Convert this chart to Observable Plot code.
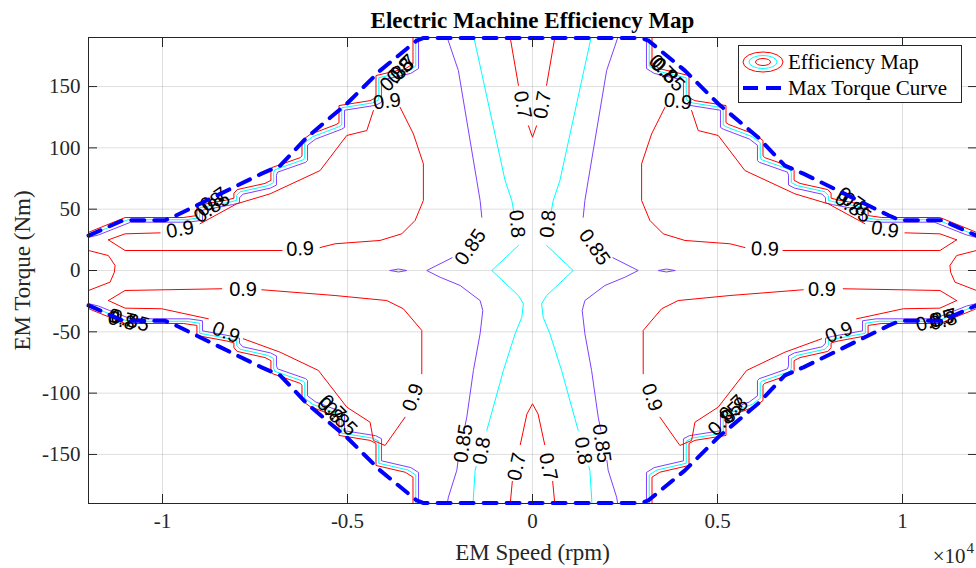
<!DOCTYPE html>
<html><head><meta charset="utf-8">
<script src="https://cdn.jsdelivr.net/npm/d3@7"></script>
<script src="https://cdn.jsdelivr.net/npm/@observablehq/plot@0.6"></script>
<style>
html,body{margin:0;padding:0;background:#fff;}
#chart{width:976px;height:568px;overflow:hidden;}
</style></head><body><div id="chart"></div>
<script>
// ---------- data (speed rpm, torque Nm) ----------
const xTicks = [-10000, -5000, 0, 5000, 10000];
const xTickLabels = ["-1", "-0.5", "0", "0.5", "1"];
const yTicks = [-150, -100, -50, 0, 50, 100, 150];
const yTickLabels = ["-150", "-100", "-50", "0", "50", "100", "150"];
const legendLabels = ["Efficiency Map", "Max Torque Curve"];

const maxTorqueUpper = [[-12000,28.5],[-11060,41],[-9930,41],[-9620,45],[-8440,62.5],[-7320,79],[-6820,85.5],[-6100,108.5],[-5020,136],[-4120,163],[-3130,187.5],[-2960,189.5],
  [2960,189.5],[3130,187.5],[4120,163],[5020,136],[6100,108.5],[6820,85.5],[7320,79],[8440,62.5],[9620,45],[9930,41],[11060,41],[12000,28.5]];
const maxTorqueLower = [[-12000,-28.5],[-11060,-41],[-9930,-41],[-9620,-45],[-8440,-62.5],[-7320,-79],[-6820,-85.5],[-6100,-108.5],[-5020,-136],[-4120,-163],[-3130,-187.5],[-2960,-189.5],
  [2960,-189.5],[3130,-187.5],[4120,-163],[5020,-136],[6100,-108.5],[6820,-85.5],[7320,-79],[8440,-62.5],[9620,-45],[9930,-41],[11060,-41],[12000,-28.5]];

// 0.70 contour along the torque limit (staircase)
const stair70UL = [[-3230,189.5],[-3230,168.5],[-3440,164.5],[-4230,159],[-4230,141],[-4390,138.5],[-5230,134.5],[-5230,120.5],[-5310,119],[-6010,111],[-6230,106],[-6230,93.5],[-6280,92],[-7040,84],[-7070,81.5],[-7070,73.5],[-7230,71],[-7980,66],[-8070,63],[-8070,59],[-8260,57.5],[-9070,53],[-9070,44.8],[-9440,43.2],[-11010,43.2],[-11880,32.6],[-12000,31]];
const stair70UR = [[3230,189.5],[3230,168.5],[3440,164.5],[4230,159],[4230,141],[4390,138.5],[5230,134.5],[5230,120.5],[5310,119],[6010,111],[6230,106],[6230,93.5],[6280,92],[7040,84],[7070,81.5],[7070,73.5],[7230,71],[7980,66],[8070,63],[8070,59],[8260,57.5],[9070,53],[9070,44.8],[9440,43.2],[11010,43.2],[11880,32.6],[12000,31]];
const stair70LL = [[-3230,-189.5],[-3230,-168.5],[-3440,-164.5],[-4230,-159],[-4230,-141],[-4390,-138.5],[-5230,-134.5],[-5230,-120.5],[-5310,-119],[-6010,-111],[-6230,-106],[-6230,-93.5],[-6280,-92],[-7040,-84],[-7070,-81.5],[-7070,-73.5],[-7230,-71],[-7980,-66],[-8070,-63],[-8070,-59],[-8260,-57.5],[-9070,-53],[-9070,-44.8],[-9440,-43.2],[-11010,-43.2],[-11880,-32.6],[-12000,-31]];
const stair70LR = [[3230,-189.5],[3230,-168.5],[3440,-164.5],[4230,-159],[4230,-141],[4390,-138.5],[5230,-134.5],[5230,-120.5],[5310,-119],[6010,-111],[6230,-106],[6230,-93.5],[6280,-92],[7040,-84],[7070,-81.5],[7070,-73.5],[7230,-71],[7980,-66],[8070,-63],[8070,-59],[8260,-57.5],[9070,-53],[9070,-44.8],[9440,-43.2],[11010,-43.2],[11880,-32.6],[12000,-31]];

// 0.80 contour along the torque limit
const stair80UL = [[-3155,189.5],[-3155,166.7],[-3365,162.7],[-4155,157.2],[-4155,139.2],[-4315,136.7],[-5155,132.7],[-5155,118.7],[-5235,117.2],[-5935,109.2],[-6155,104.2],[-6155,91.7],[-6205,90.2],[-6965,82.2],[-6995,79.7],[-6995,71.7],[-7155,69.2],[-7905,64.2],[-7995,61.2],[-7995,57.2],[-8185,55.7],[-8995,51.2],[-8995,43],[-9365,41.4],[-10935,41.4],[-11805,30.8],[-12000,29]];
const stair80UR = [[3155,189.5],[3155,166.7],[3365,162.7],[4155,157.2],[4155,139.2],[4315,136.7],[5155,132.7],[5155,118.7],[5235,117.2],[5935,109.2],[6155,104.2],[6155,91.7],[6205,90.2],[6965,82.2],[6995,79.7],[6995,71.7],[7155,69.2],[7905,64.2],[7995,61.2],[7995,57.2],[8185,55.7],[8995,51.2],[8995,43],[9365,41.4],[10935,41.4],[11805,30.8],[12000,29]];
const stair80LL = [[-3155,-189.5],[-3155,-166.7],[-3365,-162.7],[-4155,-157.2],[-4155,-139.2],[-4315,-136.7],[-5155,-132.7],[-5155,-118.7],[-5235,-117.2],[-5935,-109.2],[-6155,-104.2],[-6155,-91.7],[-6205,-90.2],[-6965,-82.2],[-6995,-79.7],[-6995,-71.7],[-7155,-69.2],[-7905,-64.2],[-7995,-61.2],[-7995,-57.2],[-8185,-55.7],[-8995,-51.2],[-8995,-43],[-9365,-41.4],[-10935,-41.4],[-11805,-30.8],[-12000,-29]];
const stair80LR = [[3155,-189.5],[3155,-166.7],[3365,-162.7],[4155,-157.2],[4155,-139.2],[4315,-136.7],[5155,-132.7],[5155,-118.7],[5235,-117.2],[5935,-109.2],[6155,-104.2],[6155,-91.7],[6205,-90.2],[6965,-82.2],[6995,-79.7],[6995,-71.7],[7155,-69.2],[7905,-64.2],[7995,-61.2],[7995,-57.2],[8185,-55.7],[8995,-51.2],[8995,-43],[9365,-41.4],[10935,-41.4],[11805,-30.8],[12000,-29]];

// 0.85 contour along the torque limit
const stair85UL = [[-3080,189.5],[-3080,164.7],[-3290,160.7],[-4080,155.2],[-4080,137.2],[-4240,134.7],[-5080,130.7],[-5080,116.7],[-5160,115.2],[-5860,107.2],[-6080,102.2],[-6080,89.7],[-6130,88.2],[-6890,80.2],[-6920,77.7],[-6920,69.7],[-7080,67.2],[-7830,62.2],[-7920,59.2],[-7920,55.2],[-8110,53.7],[-8920,49.2],[-8920,41],[-9290,39.4],[-10860,39.4],[-11730,29],[-12000,27]];
const stair85UR = [[3080,189.5],[3080,164.7],[3290,160.7],[4080,155.2],[4080,137.2],[4240,134.7],[5080,130.7],[5080,116.7],[5160,115.2],[5860,107.2],[6080,102.2],[6080,89.7],[6130,88.2],[6890,80.2],[6920,77.7],[6920,69.7],[7080,67.2],[7830,62.2],[7920,59.2],[7920,55.2],[8110,53.7],[8920,49.2],[8920,41],[9290,39.4],[10860,39.4],[11730,29],[12000,27]];
const stair85LL = [[-3080,-189.5],[-3080,-164.7],[-3290,-160.7],[-4080,-155.2],[-4080,-137.2],[-4240,-134.7],[-5080,-130.7],[-5080,-116.7],[-5160,-115.2],[-5860,-107.2],[-6080,-102.2],[-6080,-89.7],[-6130,-88.2],[-6890,-80.2],[-6920,-77.7],[-6920,-69.7],[-7080,-67.2],[-7830,-62.2],[-7920,-59.2],[-7920,-55.2],[-8110,-53.7],[-8920,-49.2],[-8920,-41],[-9290,-39.4],[-10860,-39.4],[-11730,-29],[-12000,-27]];
const stair85LR = [[3080,-189.5],[3080,-164.7],[3290,-160.7],[4080,-155.2],[4080,-137.2],[4240,-134.7],[5080,-130.7],[5080,-116.7],[5160,-115.2],[5860,-107.2],[6080,-102.2],[6080,-89.7],[6130,-88.2],[6890,-80.2],[6920,-77.7],[6920,-69.7],[7080,-67.2],[7830,-62.2],[7920,-59.2],[7920,-55.2],[8110,-53.7],[8920,-49.2],[8920,-41],[9290,-39.4],[10860,-39.4],[11730,-29],[12000,-27]];

// 0.90 lobes (null = gap for inline label)
const eff90UL = [[-11463,25],[-11012,16.3],[-6768,16.3],[null,null],[-5741,18.7],[-5336,21.8],[-4120,24.5],[-3533,29.9],[-3173,40.8],[-2949,57.1],[-2949,87],[-3219,111.4],[-3579,133.1],[null,null],[-4300,130.4],[-4479,114.1],[-5020,110.1],[-5741,81.5],[-7093,62.5],[-7993,54.4],[-8985,38.1],[null,null],[-10066,30.7],[-11012,29.9],[-11463,25]];
const eff90UR = [[11463,25],[11012,16.3],[6768,16.3],[null,null],[5741,18.7],[5336,21.8],[4120,24.5],[3533,29.9],[3173,40.8],[2949,57.1],[2949,87],[3219,111.4],[3579,133.1],[null,null],[4300,130.4],[4479,114.1],[5020,110.1],[5741,81.5],[7093,62.5],[7993,54.4],[8985,38.1],[null,null],[10066,30.7],[11012,29.9],[11463,25]];
const eff90LL = [[-11463,-24.5],[-11012,-16.3],[-8398,-14.9],[null,null],[-7317,-15.7],[-5336,-20.4],[-3938,-24.5],[-3490,-31.2],[-2992,-48.9],[-2992,-84.2],[null,null],[-3444,-119.6],[-3984,-142.7],[-4300,-138.6],[-4390,-123.7],[-5020,-111.4],[-5787,-81.5],[-6822,-66.6],[-7814,-55.7],[null,null],[-8760,-39.4],[-10020,-31.2],[-11012,-30.7],[-11463,-24.5]];
const eff90LR = [[11463,-24.5],[11012,-16.3],[8398,-14.9],[null,null],[7317,-15.7],[5336,-20.4],[3938,-24.5],[3490,-31.2],[2992,-48.9],[2992,-84.2],[null,null],[3444,-119.6],[3984,-142.7],[4300,-138.6],[4390,-123.7],[5020,-111.4],[5787,-81.5],[6822,-66.6],[7814,-55.7],[null,null],[8760,-39.4],[10020,-31.2],[11012,-30.7],[11463,-24.5]];
const eff90EdgeL = [[-12000,16.3],[-11463,12.2],[-11282,4.1],[-11301,-1.4],[-11417,-9.5],[-12000,-16.3]];
const eff90EdgeR = [[12000,16.3],[11463,12.2],[11282,4.1],[11301,-1.4],[11417,-9.5],[12000,-16.3]];

// central contours
const eff85L = [[-2300,189.5],[-2003,163],[-1506,73.4],[-1416,57.1],[-1370,43.4],[null,null],[-2173,10.4],[-2857,0],[-2497,-5.5],[-1957,-12.2],[-1416,-24.5],[-1343,-32.6],[-1416,-51.6],[-1597,-81.5],[-1776,-119.6],[-1849,-130.4],[null,null],[-2011,-154.9],[-2046,-163],[-2273,-184.8],[-2300,-189.5]];
const eff85R = [[2300,189.5],[2003,163],[1506,73.4],[1416,57.1],[1370,43.4],[null,null],[2173,10.4],[2857,0],[2497,-5.5],[1957,-12.2],[1416,-24.5],[1343,-32.6],[1416,-51.6],[1597,-81.5],[1776,-119.6],[1849,-130.4],[null,null],[2011,-154.9],[2046,-163],[2273,-184.8],[2300,-189.5]];
const eff85IslandL = [[-3850,0],[-3620,1.2],[-3400,0],[-3620,-1.2],[-3850,0]];
const eff85IslandR = [[3850,0],[3620,1.2],[3400,0],[3620,-1.2],[3850,0]];
const eff80L = [[-1580,189.5],[-741,73.4],[-560,57.1],[-511,48.9],[null,null],[-381,20.4],[-1100,0],[-381,-20.4],[-246,-27.1],[-289,-38.1],[-470,-51.6],[-786,-81.5],[-1146,-120.7],[-1235,-130.4],[null,null],[-1524,-159.8],[-1551,-163],[-1597,-184.8],[-1605,-189.5]];
const eff80R = [[1580,189.5],[741,73.4],[560,57.1],[511,48.9],[null,null],[381,20.4],[1100,0],[381,-20.4],[246,-27.1],[289,-38.1],[470,-51.6],[786,-81.5],[1146,-120.7],[1235,-130.4],[null,null],[1524,-159.8],[1551,-163],[1597,-184.8],[1605,-189.5]];
const eff70Top = [[-600,189.5],[-380,151],[null,null],[-110,118],[0,108.7],[110,118],[null,null],[380,151],[600,189.5]];
const eff70Bottom = [[-600,-189.5],[-545,-172],[null,null],[-330,-142],[-150,-117],[0,-108.7],[150,-117],[330,-142],[null,null],[545,-172],[600,-189.5]];

// inline contour labels: [speed, torque, text, angle]
const contourLabels = [
  [-270,135,"0.7",80],[270,135,"0.7",-80],
  [-424,38,"0.8",85],[424,38,"0.8",-85],
  [-1675,19,"0.85",-55],[1675,19,"0.85",55],
  [-1868,-141,"0.85",-82],[-1370,-147,"0.8",-80],[-424,-160,"0.7",-78],
  [424,-160,"0.7",78],[1370,-147,"0.8",80],[1868,-141,"0.85",82],
  [-9526,33.4,"0.9",-10],[-6282,17.5,"0.9",-2],[-3930,137.8,"0.9",-7],
  [9526,33.4,"0.9",10],[6282,17.5,"0.9",2],[3930,137.8,"0.9",7],
  [-7823,-15.5,"0.9",0],[-8282,-50.5,"0.9",22],[-3228,-103.5,"0.9",-70],
  [7823,-15.5,"0.9",0],[8282,-50.5,"0.9",-22],[3228,-103.5,"0.9",70],
  [-3660,159.8,"0.85",-45],[-3579,163,"0.8",-45],[-3498,165.5,"0.7",-45],
  [3660,159.8,"0.85",45],[3579,163,"0.8",45],[3498,165.5,"0.7",45],
  [-8661,51.4,"0.85",-35],[-8715,53.8,"0.8",-35],[-8607,57.9,"0.7",-35],
  [8661,51.4,"0.85",35],[8715,53.8,"0.8",35],[8607,57.9,"0.7",35],
  [-10877,-40.8,"0.85",15],[-11100,-41,"0.8",15],[-11100,-39,"0.7",15],
  [10877,-40.8,"0.85",-15],[11100,-41,"0.8",-15],[11100,-39,"0.7",-15],
  [-5200,-121,"0.85",45],[-5470,-114,"0.8",45],[-5400,-112,"0.7",45],
  [5200,-121,"0.85",-45],[5470,-114,"0.8",-45],[5400,-112,"0.7",-45]
];

// ---------- styling ----------
const C70 = "#ff0000", C80 = "#00ffff", C85 = "#7f3fff", C90 = "#ff0000", CMAX = "#0000ff";
const SERIF = "'Liberation Serif','Times New Roman',serif";
const SANS = "'Liberation Sans',Arial,Helvetica,sans-serif";
const INK = "#262626";

const lineOf = (arr, color) => Plot.line(arr, {x: d => d[0], y: d => d[1], stroke: color, strokeWidth: 1});

const contourMarks = [
  ...[stair70UL, stair70UR, stair70LL, stair70LR, eff70Top, eff70Bottom].map(a => lineOf(a, C70)),
  ...[stair80UL, stair80UR, stair80LL, stair80LR, eff80L, eff80R].map(a => lineOf(a, C80)),
  ...[stair85UL, stair85UR, stair85LL, stair85LR, eff85L, eff85R, eff85IslandL, eff85IslandR].map(a => lineOf(a, C85)),
  ...[eff90UL, eff90UR, eff90LL, eff90LR, eff90EdgeL, eff90EdgeR].map(a => lineOf(a, C90))
];

const chart = Plot.plot({
  width: 976, height: 568,
  marginLeft: 88, marginRight: 0, marginTop: 37, marginBottom: 65,
  x: {domain: [-12000, 12000]},
  y: {domain: [-190, 190]},
  style: {background: "#fff", color: INK},
  marks: [
    Plot.gridX(xTicks, {stroke: INK, strokeOpacity: 0.15}),
    Plot.gridY(yTicks, {stroke: INK, strokeOpacity: 0.15}),
    ...contourMarks,
    Plot.text(contourLabels, {x: d => d[0], y: d => d[1], text: d => d[2], rotate: d => d[3],
      fontSize: 20, fontFamily: SANS, fill: "#000", textAnchor: "middle", lineAnchor: "middle"}),
    Plot.line(maxTorqueUpper, {x: d => d[0], y: d => d[1], stroke: CMAX, strokeWidth: 4, strokeDasharray: "13,10"}),
    Plot.line(maxTorqueLower, {x: d => d[0], y: d => d[1], stroke: CMAX, strokeWidth: 4, strokeDasharray: "13,10"}),
    Plot.frame({stroke: INK, strokeWidth: 1}),
    Plot.axisX(xTicks, {anchor: "bottom", tickSize: 0, tickPadding: 10, label: null,
      tickFormat: (d, i) => xTickLabels[i], fontSize: 21, fontFamily: SERIF, fill: INK}),
    Plot.axisY(yTicks, {anchor: "left", tickSize: 0, tickPadding: 8, label: null,
      tickFormat: (d, i) => yTickLabels[i], fontSize: 21, fontFamily: SERIF, fill: INK}),
    Plot.axisX(xTicks, {anchor: "bottom", tickSize: -9, label: null, tickFormat: () => "", stroke: INK}),
    Plot.axisX(xTicks, {anchor: "top", tickSize: -9, label: null, tickFormat: () => "", stroke: INK}),
    Plot.axisY(yTicks, {anchor: "left", tickSize: -9, label: null, tickFormat: () => "", stroke: INK}),
    Plot.axisY(yTicks, {anchor: "right", tickSize: -9, label: null, tickFormat: () => "", stroke: INK}),
    Plot.text(["Electric Machine Efficiency Map"], {frameAnchor: "top", dy: -17, lineAnchor: "middle", textAnchor: "middle",
      fontSize: 23, fontWeight: "bold", fontFamily: SERIF, fill: "#000"}),
    Plot.text(["EM Speed (rpm)"], {frameAnchor: "bottom", dy: 49, lineAnchor: "middle", textAnchor: "middle",
      fontSize: 23, fontFamily: SERIF, fill: INK}),
    Plot.text(["EM Torque (Nm)"], {frameAnchor: "left", dx: -66, rotate: -90, lineAnchor: "middle", textAnchor: "middle",
      fontSize: 23, fontFamily: SERIF, fill: INK}),
    Plot.text(["\u00d710"], {frameAnchor: "bottom-right", dx: -11, dy: 53, textAnchor: "end", lineAnchor: "middle",
      fontSize: 21, fontFamily: SERIF, fill: INK}),
    Plot.text(["4"], {frameAnchor: "bottom-right", dx: -10, dy: 45, textAnchor: "start", lineAnchor: "middle",
      fontSize: 15, fontFamily: SERIF, fill: INK})
  ]
});
document.getElementById("chart").append(chart);

// ---------- legend ----------
const svg = d3.select(chart);
const lg = svg.append("g").attr("text-anchor", "start");
lg.append("rect").attr("x", 738.5).attr("y", 45.5).attr("width", 223).attr("height", 57)
  .attr("fill", "#fff").attr("stroke", INK).attr("stroke-width", 1);
[[20, 10, C70], [14, 6.5, C80], [7.5, 3.5, C70]].forEach(([rx, ry, c]) => {
  lg.append("ellipse").attr("cx", 763).attr("cy", 62).attr("rx", rx).attr("ry", ry)
    .attr("fill", "none").attr("stroke", c).attr("stroke-width", 1);
});
lg.append("line").attr("x1", 743).attr("x2", 783).attr("y1", 88).attr("y2", 88)
  .attr("stroke", CMAX).attr("stroke-width", 4).attr("stroke-dasharray", "15,8");
lg.append("text").attr("x", 788).attr("y", 69).attr("text-anchor", "start").text(legendLabels[0])
  .attr("font-family", SERIF).attr("font-size", 21).attr("fill", "#000");
lg.append("text").attr("x", 788).attr("y", 95).attr("text-anchor", "start").text(legendLabels[1])
  .attr("font-family", SERIF).attr("font-size", 21).attr("fill", "#000");
</script></body></html>
